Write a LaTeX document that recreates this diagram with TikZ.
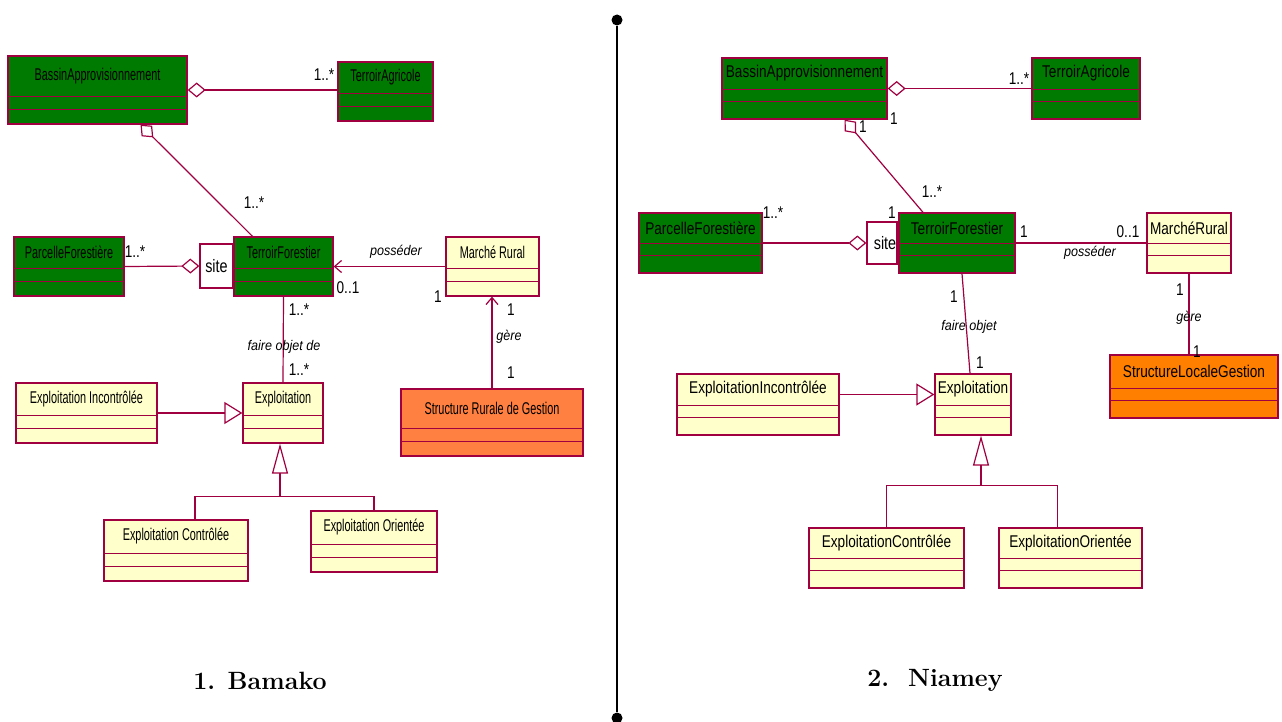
\documentclass[tikz,border=0pt]{standalone}
\usepackage{fontspec}
\newfontfamily\roseleft[FakeStretch=0.64]{Liberation Sans}
\newfontfamily\roseright[FakeStretch=0.8]{Liberation Sans}
\newfontfamily\rosemult[FakeStretch=0.8]{Liberation Sans}
\newfontfamily\roserole[FakeStretch=0.9]{Liberation Sans}
\usetikzlibrary{arrows.meta,positioning,fit,calc}
\tikzset{>=Stealth}

\definecolor{roseline}{RGB}{160,0,64}
\definecolor{rosegreen}{RGB}{0,122,0}
\definecolor{rosecream}{RGB}{255,255,204}
\definecolor{roseorange}{RGB}{255,128,64}
\definecolor{roseamber}{RGB}{255,128,0}

% compartment lines, measured up from the bottom of a class
\def\divA{28pt}
\def\divB{15pt}
% class box: name, fill, two corners, title, title style
\newcommand{\umlclass}[6]{%
  \node[classbox, fill=#2, fit={#3 #4}] (#1) {};
  \draw[classline] ([yshift=\divA]#1.south west) -- ([yshift=\divA]#1.south east);
  \draw[classline] ([yshift=\divB]#1.south west) -- ([yshift=\divB]#1.south east);
  \node[#6] (#1-title) at ($(#1.north)!0.5!([yshift=\divA]#1.south)$) {#5};
}

\begin{document}
\begin{tikzpicture}[
    x=1pt, y=-1pt,
    classbox/.style={draw=roseline, line width=1.3pt, inner sep=0pt},
    classline/.style={draw=roseline, line width=1.3pt},
    ltitle/.style={font=\roseleft\fontsize{17}{19}\selectfont, inner sep=0pt},
    rtitle/.style={font=\roseright\fontsize{17}{19}\selectfont, inner sep=0pt},
    mult/.style={font=\rosemult\fontsize{17}{19}\selectfont, inner sep=0pt},
    role/.style={font=\roserole\itshape\fontsize{14}{16}\selectfont, inner sep=0pt},
    qual/.style={draw=roseline, line width=1.3pt, fill=white, inner sep=0pt},
    qtext/.style={font=\roseright\fontsize{18}{20}\selectfont, inner sep=0pt},
    link/.style={draw=roseline, line width=1.2pt},
    aggr/.style={link, {Diamond[open, length=18pt, width=15pt]}-},
    nav/.style={link, -{Straight Barb[length=7pt, width=12pt]}},
    inherit/.style={link, -{Triangle[open, length=18pt, width=22pt]}},
    inheritup/.style={link, -{Triangle[open, length=30pt, width=16pt]}},
    dot/.style={circle, fill=black, inner sep=0pt, minimum size=11pt},
    caption/.style={font=\fontsize{25}{30}\selectfont\bfseries}
  ]
  \useasboundingbox (0,0) rectangle (1282,722);

  % 1. Bamako
  \umlclass{lbassin}{rosegreen}{(8,56)}{(187,124)}{BassinApprovisionnement}{ltitle}
  \umlclass{lagri}{rosegreen}{(338,62)}{(433,121)}{TerroirAgricole}{ltitle}
  \umlclass{lparc}{rosegreen}{(14,237)}{(124,296)}{ParcelleForestière}{ltitle}
  \node[qual, fit={(200,244) (233,288)}] (lsite) {};
  \node[qtext] (lsite-text) at (lsite.center) {site};
  \umlclass{ltf}{rosegreen}{(234,237)}{(333,296)}{TerroirForestier}{ltitle}
  \umlclass{lmarche}{rosecream}{(446,237)}{(539,296)}{Marché Rural}{ltitle}
  \umlclass{lstruct}{roseorange}{(401,389)}{(583,456)}{Structure Rurale de Gestion}{ltitle}
  \umlclass{lincon}{rosecream}{(16,383)}{(157,443)}{Exploitation Incontrôlée}{ltitle}
  \umlclass{lexpl}{rosecream}{(243,383)}{(323,443)}{Exploitation}{ltitle}
  \umlclass{lctrl}{rosecream}{(104,520)}{(248,581)}{Exploitation Contrôlée}{ltitle}
  \umlclass{lorient}{rosecream}{(311,511)}{(437,572)}{Exploitation Orientée}{ltitle}

  \draw[aggr] (lbassin.east) -- (lagri.west |- lbassin.east);
  \draw[aggr] ([xshift=43pt]lbassin.south) -- ([xshift=-31pt]ltf.north);
  \draw[aggr] (lsite.west) -- (lparc.east);
  \draw[nav] (lmarche.west) -- (ltf.east);
  \draw[nav] (lstruct.north) -- (lstruct.north |- lmarche.south);
  \draw[link] (ltf.south) -- (lexpl.north);
  \draw[inherit] (lincon.east) -- (lexpl.west);
  \coordinate (ljoin) at ($(lexpl.south)+(-3,53)$);
  \draw[link] ([xshift=19pt]lctrl.north) |- (ljoin) -| (lorient.north);
  \draw[inheritup] (ljoin) -- (lexpl.south -| ljoin);

  \node[mult] (lm1) at (324,75) {1..*};
  \node[mult] (lm2) at (254,203) {1..*};
  \node[mult] (lm3) at (135,252) {1..*};
  \node[mult] (lm4) at (348,288) {0..1};
  \node[mult] (lm5) at (438,297) {1};
  \node[mult] (lm6) at (511,310) {1};
  \node[mult] (lm7) at (511,373) {1};
  \node[mult] (lm8) at (299,310) {1..*};
  \node[mult] (lm9) at (299,370) {1..*};
  \node[role] (lr1) at (396,252) {posséder};
  \node[role] (lr2) at (509,337) {gère};
  \node[role] (lr3) at (284,347) {faire objet de};

  % 2. Niamey
  \def\divA{30pt}
  \def\divB{18pt}
  \umlclass{rbassin}{rosegreen}{(722,58)}{(887,119)}{BassinApprovisionnement}{rtitle}
  \umlclass{ragri}{rosegreen}{(1032,58)}{(1140,119)}{TerroirAgricole}{rtitle}
  \umlclass{rparc}{rosegreen}{(639,213)}{(762,273)}{ParcelleForestière}{rtitle}
  \node[qual, fit={(867,222) (897,264)}] (rsite) {};
  \node[qtext] (rsite-text) at ([xshift=3pt]rsite.center) {site};
  \umlclass{rtf}{rosegreen}{(899,213)}{(1015,273)}{TerroirForestier}{rtitle}
  \umlclass{rmarche}{rosecream}{(1147,213)}{(1231,273)}{MarchéRural}{rtitle}
  \umlclass{rstruct}{roseamber}{(1110,355)}{(1278,418)}{StructureLocaleGestion}{rtitle}
  \umlclass{rincon}{rosecream}{(677,374)}{(839,435)}{ExploitationIncontrôlée}{rtitle}
  \umlclass{rexpl}{rosecream}{(935,374)}{(1011,435)}{Exploitation}{rtitle}
  \umlclass{rctrl}{rosecream}{(809,528)}{(964,588)}{ExploitationContrôlée}{rtitle}
  \umlclass{rorient}{rosecream}{(999,528)}{(1142,588)}{ExploitationOrientée}{rtitle}

  \draw[aggr] (rbassin.east) -- (ragri.west);
  \draw[aggr] ([xshift=40pt]rbassin.south) -- ([xshift=-34pt]rtf.north);
  \draw[aggr] (rsite.west) -- (rparc.east);
  \draw[link] (rtf.east) -- (rmarche.west);
  \draw[link] (rmarche.south) -- (rmarche.south |- rstruct.north);
  \draw[link] ([xshift=5pt]rtf.south) -- ([xshift=-3pt]rexpl.north);
  \draw[inherit] ([yshift=10pt]rincon.east) -- ([yshift=10pt]rexpl.west);
  \coordinate (rjoin) at ($(rexpl.south)+(8,50)$);
  \draw[link] (rctrl.north) |- (rjoin) -| ([xshift=-13pt]rorient.north);
  \draw[inheritup] (rjoin) -- (rexpl.south -| rjoin);

  \node[mult] (rm1) at (1019,79) {1..*};
  \node[mult] (rm2) at (894,119) {1};
  \node[mult] (rm3) at (863,127) {1};
  \node[mult] (rm4) at (932,192) {1..*};
  \node[mult] (rm5) at (773,213) {1..*};
  \node[mult] (rm6) at (892,213) {1};
  \node[mult] (rm7) at (1024,232) {1};
  \node[mult] (rm8) at (1128,232) {0..1};
  \node[mult] (rm9) at (1180,290) {1};
  \node[mult] (rm10) at (1197,352) {1};
  \node[mult] (rm11) at (954,297) {1};
  \node[mult] (rm12) at (980,363) {1};
  \node[role] (rr1) at (1090,253) {posséder};
  \node[role] (rr2) at (1189,318) {gère};
  \node[role] (rr3) at (969,327) {faire objet};

  % separator and captions
  \node[dot] (dtop) at (617,20) {};
  \node[dot] (dbot) at (617,718) {};
  \draw[line width=1.6pt] (dtop) -- (dbot);
  \node[caption] (lcap) at (260,681) {1. Bamako};
  \node[caption] (rcap) at (935,680) {2.\ \ Niamey};
\end{tikzpicture}
\end{document}
